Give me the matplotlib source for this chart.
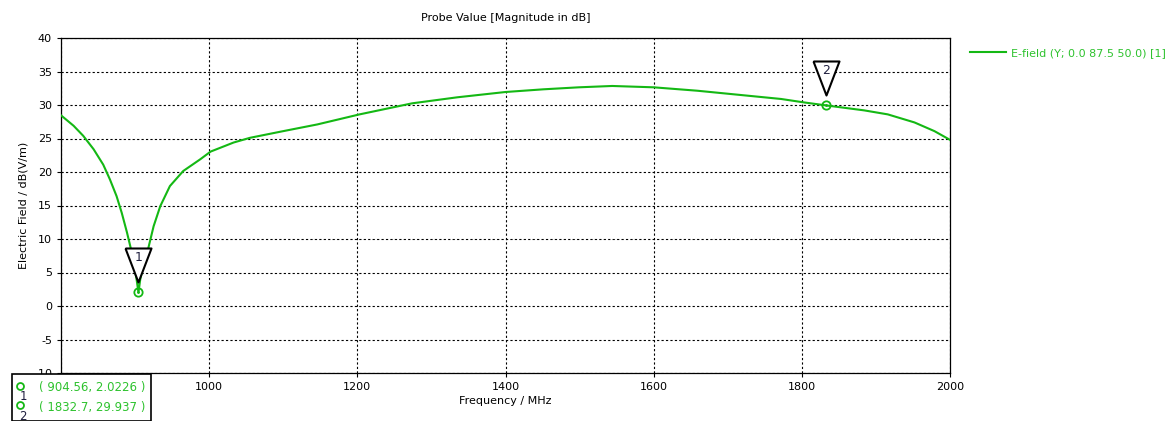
import numpy as np
import matplotlib
matplotlib.use("Agg")
import matplotlib.pyplot as plt
from matplotlib.patches import Rectangle
from matplotlib.lines import Line2D

# values
freq = [800, 817, 830, 844, 857, 866, 875, 882, 889, 894, 899, 902, 904.56,
        907, 911, 914, 918, 925, 934, 947, 965, 988, 1002, 1033, 1055, 1100,
        1146, 1203, 1274, 1335, 1400, 1451, 1499, 1544, 1600, 1659, 1704, 1772,
        1802, 1832.7, 1884, 1916, 1952, 1979, 2000]
efield = [28.46, 26.9, 25.4, 23.4, 21.1, 18.9, 16.4, 13.9, 11.0, 8.7, 5.8, 4.0, 2.02,
          4.0, 6.0, 7.3, 8.7, 11.9, 14.9, 17.9, 20.15, 21.9, 23.05, 24.4, 25.1, 26.1,
          27.1, 28.6, 30.25, 31.15, 31.94, 32.34, 32.64, 32.84, 32.64, 32.13, 31.64, 30.9,
          30.4, 29.94, 29.2, 28.6, 27.4, 26.1, 24.8]
marker_ids = ["1", "2"]
marker_f = [904.56, 1832.7]
marker_v = [2.0226, 29.937]
marker_txt = ["( 904.56, 2.0226 )", "( 1832.7, 29.937 )"]
xticks = [800, 1000, 1200, 1400, 1600, 1800, 2000]
# the 800 label sits under the marker table in the reference
xticklabels = ["", "1000", "1200", "1400", "1600", "1800", "2000"]
yticks = [-10, -5, 0, 5, 10, 15, 20, 25, 30, 35, 40]

green = "#14b814"
txtgreen = "#2ec22e"
W, H = 1176, 421

plt.rcParams['font.family'] = ['DejaVu Sans']
plt.rcParams['font.size'] = 8
plt.rcParams['axes.unicode_minus'] = False

fig = plt.figure(figsize=(W / 100, H / 100), dpi=100)
ax = fig.add_axes([61 / W, 1 - 373 / H, (950 - 61) / W, (373 - 38) / H])

ax.plot(freq, efield, color=green, lw=1.5, label="E-field (Y; 0.0 87.5 50.0) [1]", zorder=3)
ax.set_xlim(800, 2000)
ax.set_ylim(-10, 40)
ax.set_xticks(xticks)
ax.set_xticklabels(xticklabels)
ax.set_yticks(yticks)
ax.grid(True, color="black", linestyle=(0, (2, 2)), lw=0.8)
ax.tick_params(direction="out", length=3, width=0.8, colors="black", labelsize=8)
for s in ax.spines.values():
    s.set_linewidth(0.9)

ax.set_title("Probe Value [Magnitude in dB]", fontsize=8, pad=12)
ax.set_xlabel("Frequency / MHz", fontsize=8, labelpad=3)
ax.set_ylabel("Electric Field / dB(V/m)", fontsize=8, labelpad=4)

# triangle flags above the markers (pixel units, y up)
tri = [(-13, 44), (13, 44), (0, 10), (-13, 44)]
tri_size = 2 * 44 * 0.72
for mid, f, v in zip(marker_ids, marker_f, marker_v):
    ax.plot([f], [v], marker=tri, markersize=tri_size, markerfacecolor="white",
            markeredgecolor="black", markeredgewidth=1.5, linestyle="none", zorder=4)
    ax.plot([f], [v], marker="o", markersize=6, markerfacecolor="none",
            markeredgecolor=green, markeredgewidth=1.3, linestyle="none", zorder=5)
    ax.plot([f], [v], marker=".", markersize=2, color=green, linestyle="none", zorder=5)
    ax.annotate(mid, (f, v), xytext=(0, 35), textcoords="offset pixels",
                ha="center", va="center", fontsize=9, color="#202040", zorder=6)

leg = ax.legend(loc="upper left", bbox_to_anchor=(960 / W, 1 - 38 / H),
                bbox_transform=fig.transFigure, frameon=False, handlelength=3.2,
                handletextpad=0.5, fontsize=8, labelcolor=txtgreen)

# marker readout table at bottom-left
fig.patches.append(Rectangle((12 / W, 0), (151 - 12) / W, (H - 374) / H,
                             transform=fig.transFigure, facecolor="white",
                             edgecolor="black", lw=1.2, zorder=10))
rows_y = [388, 407]
for mid, txt, ry in zip(marker_ids, marker_txt, rows_y):
    fig.add_artist(Line2D([20 / W], [1 - (ry - 2) / H], marker="o", markersize=5,
                          markerfacecolor="none", markeredgecolor=green,
                          markeredgewidth=1.3, transform=fig.transFigure, zorder=11))
    fig.text(23 / W, 1 - (ry + 9) / H, mid, fontsize=8.5, color="#202040",
             ha="center", va="center", zorder=11)
    fig.text(39 / W, 1 - ry / H, txt, fontsize=8.5, color=txtgreen,
             ha="left", va="center", zorder=11)

fig.savefig("out.png", dpi=100)
